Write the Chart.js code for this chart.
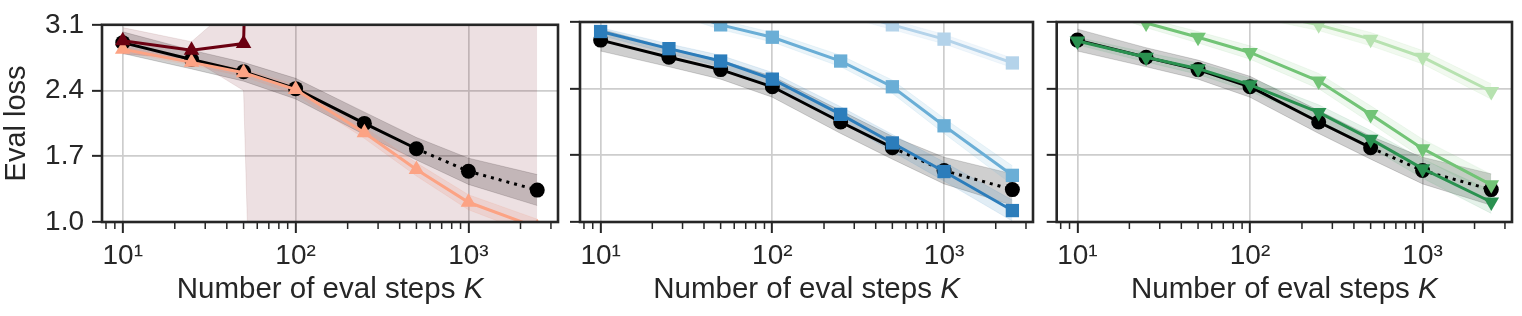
<!DOCTYPE html>
<html><head><meta charset="utf-8">
<script src="https://cdn.jsdelivr.net/npm/chart.js@4.4.1/dist/chart.umd.min.js"></script>
<style>
html,body{margin:0;padding:0;background:#fff;width:1522px;height:316px;overflow:hidden}
.p{position:absolute;top:0}
</style></head><body>
<div class="p" style="left:0px"><canvas id="c1" width="568" height="316"></canvas></div>
<div class="p" style="left:568px"><canvas id="c2" width="475" height="316"></canvas></div>
<div class="p" style="left:1043px"><canvas id="c3" width="479" height="316"></canvas></div>
<script>
// ---------------- data ----------------
const steps = [10, 25, 50, 100, 250, 500, 1000, 2500];
const baseLoss = [2.91, 2.73, 2.60, 2.42, 2.05, 1.78, 1.54, 1.34];
const baseStd  = [0.115, 0.10, 0.10, 0.11, 0.12, 0.12, 0.14, 0.165];

const redDarkLoss  = [2.93, 2.83, 2.90, 25, 30, 35, 40, 45];
const redDarkStd   = [0.14, 0.09, 0.50, 42, 50, 55, 60, 65];
const redLightLoss = [2.84, 2.70, 2.59, 2.41, 1.95, 1.56, 1.21, 0.94];
const redLightStd  = [0.03, 0.03, 0.04, 0.05, 0.06, 0.07, 0.08, 0.09];

const blueDarkLoss  = [3.00, 2.82, 2.69, 2.50, 2.13, 1.83, 1.53, 1.12];
const blueDarkStd   = [0.04, 0.05, 0.06, 0.07, 0.08, 0.09, 0.10, 0.11];
const blueMidLoss   = [3.40, 3.25, 3.07, 2.94, 2.69, 2.42, 2.01, 1.49];
const blueMidStd    = [0.05, 0.05, 0.05, 0.05, 0.06, 0.07, 0.08, 0.10];
const blueLightLoss = [3.70, 3.55, 3.45, 3.35, 3.22, 3.07, 2.92, 2.67];
const blueLightStd  = [0.05, 0.05, 0.05, 0.05, 0.05, 0.05, 0.05, 0.05];

const greenDarkLoss  = [2.90, 2.73, 2.61, 2.44, 2.15, 1.87, 1.56, 1.21];
const greenDarkStd   = [0.04, 0.05, 0.06, 0.07, 0.08, 0.09, 0.10, 0.12];
const greenMidLoss   = [3.35, 3.09, 2.94, 2.78, 2.48, 2.13, 1.77, 1.39];
const greenMidStd    = [0.05, 0.05, 0.06, 0.07, 0.08, 0.09, 0.10, 0.11];
const greenLightLoss = [3.60, 3.45, 3.35, 3.22, 3.07, 2.92, 2.73, 2.37];
const greenLightStd  = [0.05, 0.05, 0.05, 0.06, 0.06, 0.07, 0.07, 0.08];

const yTicks = [1.0, 1.7, 2.4, 3.1];
const xMajor = [10, 100, 1000];
const xLabels = ['10\u00B9', '10\u00B2', '10\u00B3'];
const xMinor = [8, 9, 20, 30, 40, 50, 60, 70, 80, 90, 200, 300, 400, 500, 600, 700, 800, 900, 2000, 3000];
const xMin = 7.585, xMax = 3296;
const yTitle = 'Eval loss';
const xTitleMain = 'Number of eval steps ';
const xTitleVar = 'K';

// ---------------- drawing ----------------
const FONT = '"Liberation Sans", Arial, sans-serif';
const INK = '#262626';

function rgba(hex, a) {
  const n = parseInt(hex.slice(1), 16);
  return `rgba(${(n >> 16) & 255},${(n >> 8) & 255},${n & 255},${a})`;
}

// In Chart.js, datasets with a higher `order` are drawn first (underneath).
function buildDatasets(series) {
  const bands = [], lines = [];
  series.forEach((s) => {
    const lo = steps.map((x, i) => ({ x, y: s.loss[i] - s.std[i] }));
    const hi = steps.map((x, i) => ({ x, y: s.loss[i] + s.std[i] }));
    bands.push({ data: lo, borderWidth: 1, borderColor: rgba(s.color, s.bandAlpha * 0.8),
      pointRadius: 0, fill: false, clip: 0, order: 50 });
    bands.push({ data: hi, borderWidth: 1, borderColor: rgba(s.color, s.bandAlpha * 0.8),
      pointRadius: 0, clip: 0, order: 50,
      fill: '-1', backgroundColor: rgba(s.color, s.bandAlpha) });
  });
  series.forEach((s, k) => {
    const ds = {
      data: steps.map((x, i) => ({ x, y: s.loss[i] })),
      borderColor: s.color, backgroundColor: s.color,
      borderWidth: 3, pointStyle: s.marker, pointRadius: s.radius,
      pointRotation: s.rot || 0, pointBorderWidth: 0,
      pointBackgroundColor: s.color, fill: false, clip: 0,
      order: s.isBase ? 30 : k + 1, tension: 0
    };
    if (s.dashFrom !== undefined) {
      ds.segment = { borderDash: (c) => c.p0DataIndex >= s.dashFrom ? [3, 5] : undefined };
    }
    lines.push(ds);
  });
  return bands.concat(lines);
}

const framePlugin = {
  id: 'frame',
  afterDraw(chart) {
    const { ctx, chartArea: a } = chart;
    const xs = chart.scales.x;
    ctx.save();
    // minor ticks
    ctx.strokeStyle = INK; ctx.lineWidth = 1.5;
    ctx.beginPath();
    xMinor.forEach((v) => {
      const px = xs.getPixelForValue(v);
      if (px >= a.left && px <= a.right) { ctx.moveTo(px, a.bottom); ctx.lineTo(px, a.bottom + 7); }
    });
    ctx.stroke();
    // frame
    ctx.lineWidth = 2.6; ctx.strokeStyle = INK;
    ctx.strokeRect(a.left, a.top, a.right - a.left, a.bottom - a.top);
    // x title with italic variable
    const fs = 29.5;
    ctx.fillStyle = INK; ctx.textBaseline = 'alphabetic';
    ctx.font = `${fs}px ${FONT}`;
    const w1 = ctx.measureText(xTitleMain).width;
    ctx.font = `italic ${fs}px ${FONT}`;
    const w2 = ctx.measureText(xTitleVar).width;
    const cx = (a.left + a.right) / 2;
    const x0 = cx - (w1 + w2) / 2, by = 297.5;
    ctx.font = `${fs}px ${FONT}`;
    ctx.fillText(xTitleMain, x0, by);
    ctx.font = `italic ${fs}px ${FONT}`;
    ctx.fillText(xTitleVar, x0 + w1, by);
    ctx.restore();
  }
};

function makeChart(id, yWidth, rightPad, showY, series) {
  new Chart(document.getElementById(id), {
    type: 'line',
    data: { datasets: buildDatasets(series) },
    options: {
      responsive: false, animation: false, devicePixelRatio: 1,
      layout: { padding: { top: 22, right: rightPad, left: 0, bottom: 0 } },
      plugins: { legend: { display: false }, tooltip: { enabled: false } },
      scales: {
        x: {
          type: 'logarithmic', min: xMin, max: xMax,
          afterBuildTicks: (s) => { s.ticks = xMajor.map((v) => ({ value: v })); },
          ticks: { callback: (v, i) => xLabels[i], font: { size: 28, family: FONT }, color: INK,
                   padding: 6, maxRotation: 0, autoSkip: false },
          grid: { color: '#cdcdcd', lineWidth: 1.7, tickColor: INK, tickWidth: 2, tickLength: 11 },
          border: { display: false },
          afterFit: (s) => { s.height = 94; }
        },
        y: {
          min: 1.0, max: 3.1,
          afterBuildTicks: (s) => { s.ticks = yTicks.map((v) => ({ value: v })); },
          ticks: { display: showY, callback: (v) => Number(v).toFixed(1), font: { size: 28, family: FONT },
                   color: INK, padding: 8 },
          grid: { color: '#cdcdcd', lineWidth: 1.7, tickColor: INK, tickWidth: 2, tickLength: 10 },
          border: { display: false },
          title: { display: showY, text: yTitle, font: { size: 29, family: FONT }, color: INK,
                   padding: { top: 0, bottom: 0 } },
          afterFit: (s) => { s.width = yWidth; }
        }
      }
    },
    plugins: [framePlugin]
  });
}

const BLACK = '#000000';
const base = { loss: baseLoss, std: baseStd, color: BLACK, bandAlpha: 0.19, marker: 'circle', radius: 7.5, dashFrom: 5, isBase: true };

makeChart('c1', 102, 10, true, [
  { loss: redDarkLoss, std: redDarkStd, color: '#6b0011', bandAlpha: 0.12, marker: 'triangle', radius: 9 },
  { loss: redLightLoss, std: redLightStd, color: '#fca384', bandAlpha: 0.18, marker: 'triangle', radius: 9 },
  base
]);
makeChart('c2', 12, 10, false, [
  { loss: blueDarkLoss, std: blueDarkStd, color: '#2c7dbb', bandAlpha: 0.14, marker: 'rect', radius: 9.4 },
  { loss: blueMidLoss, std: blueMidStd, color: '#6aaed6', bandAlpha: 0.14, marker: 'rect', radius: 9.4 },
  { loss: blueLightLoss, std: blueLightStd, color: '#b4d3ea', bandAlpha: 0.2, marker: 'rect', radius: 9.4 },
  base
]);
makeChart('c3', 13.7, 10, false, [
  { loss: greenDarkLoss, std: greenDarkStd, color: '#2a9150', bandAlpha: 0.12, marker: 'triangle', radius: 9, rot: 180 },
  { loss: greenMidLoss, std: greenMidStd, color: '#72c476', bandAlpha: 0.12, marker: 'triangle', radius: 9, rot: 180 },
  { loss: greenLightLoss, std: greenLightStd, color: '#b7e2b0', bandAlpha: 0.2, marker: 'triangle', radius: 9, rot: 180 },
  base
]);
</script>
</body></html>
